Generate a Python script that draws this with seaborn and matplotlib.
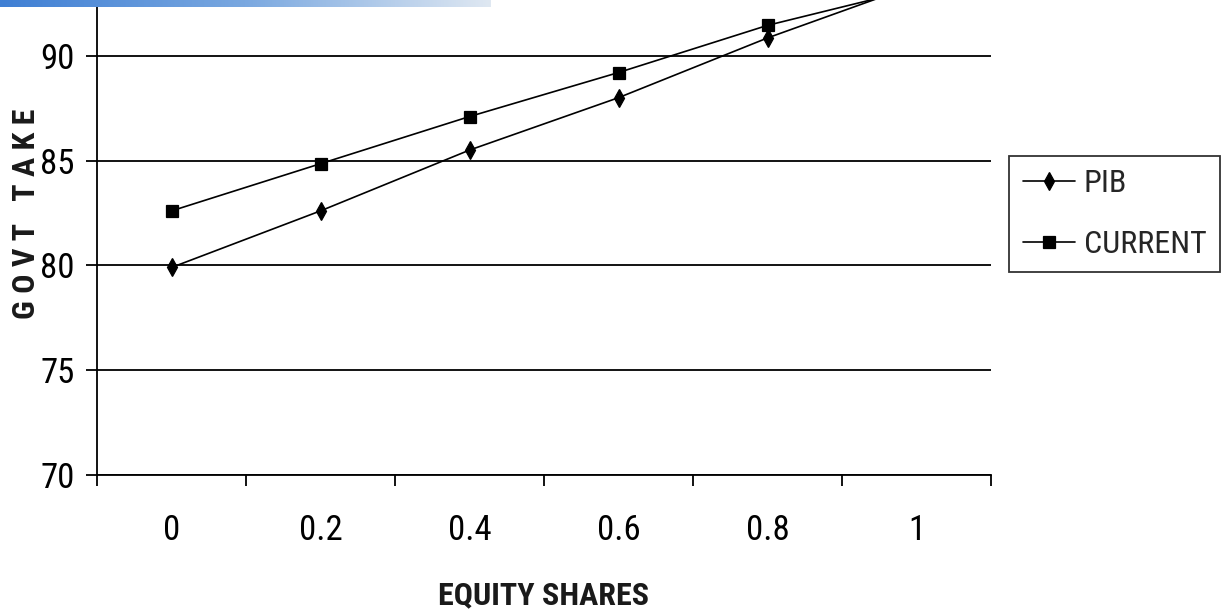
import numpy as np
import pandas as pd
import matplotlib
matplotlib.use("Agg")
import matplotlib.pyplot as plt
from matplotlib import font_manager
from matplotlib.colors import LinearSegmentedColormap
import seaborn as sns

# ---- data ----
equity_shares = ["0", "0.2", "0.4", "0.6", "0.8", "1"]
pib = [79.9, 82.6, 85.5, 88.0, 90.85, 93.4]
current = [82.6, 84.85, 87.1, 89.2, 91.45, 93.2]
series_names = ["PIB", "CURRENT"]
y_ticks = [70, 75, 80, 85, 90]

df = pd.DataFrame({
    "share": equity_shares * 2,
    "take": pib + current,
    "series": [series_names[0]] * len(pib) + [series_names[1]] * len(current),
})

sns.set_theme(style="white")

# pick a narrow font if possible
available = {f.name for f in font_manager.fontManager.ttflist}
font = "DejaVu Sans"
scale = 0.82
for cand in ["Liberation Sans Narrow", "DejaVu Sans Condensed", "Roboto Condensed",
             "Open Sans Condensed", "Liberation Sans"]:
    if cand in available:
        font = cand
        scale = 1.0 if ("Narrow" in cand or "Condensed" in cand) else 0.82
        break
plt.rcParams["font.family"] = [font, "DejaVu Sans"]

W, H = 1221, 616
fig = plt.figure(figsize=(W / 100, H / 100), dpi=100)
ax = fig.add_axes([97 / W, 1 - 475 / H, (991 - 97) / W, 475 / H])

sns.pointplot(data=df, x="share", y="take", hue="series", order=equity_shares,
              hue_order=series_names, palette=["black", "black"],
              markers=["d", "s"], linestyles=["-", "-"], errorbar=None,
              markersize=9, linewidth=1.2, ax=ax)

ax.set_ylim(70, 92.66)
ax.set_xlim(-0.5, 5.5)
ax.set_yticks(y_ticks)
ax.set_xticks(np.arange(-0.5, 6, 1), minor=True)
ax.grid(False)
for y in y_ticks:
    ax.axhline(y, color="black", lw=1.3, zorder=0.5)

for s in ["top", "right"]:
    ax.spines[s].set_visible(False)
for s in ["left", "bottom"]:
    ax.spines[s].set_color("black")
    ax.spines[s].set_linewidth(1.3)

tick_fs = 25 * scale
ax.tick_params(axis="x", which="major", length=0, pad=28, labelsize=tick_fs, colors="black")
ax.tick_params(axis="x", which="minor", length=8, width=1.3, direction="out", bottom=True, color="black")
ax.tick_params(axis="y", which="major", length=8, width=1.3, direction="out", left=True,
               pad=8, labelsize=tick_fs, colors="black")
ax.set_xlabel("")
ax.set_ylabel("")

handles, labels = ax.get_legend_handles_labels()
if ax.get_legend() is not None:
    ax.get_legend().remove()
leg = fig.legend(handles, labels, loc="center", bbox_to_anchor=(1114.5 / W, 1 - 214 / H),
                 frameon=True, fancybox=False, fontsize=23 * scale, handlelength=1.65,
                 handletextpad=0.26, labelspacing=1.0, borderpad=0.42, borderaxespad=0)
leg.get_frame().set_edgecolor("black")
leg.get_frame().set_linewidth(1.3)

fig.text(26 / W, 1 - 214 / H, "G O V T   T A K E", rotation=90, ha="center", va="center",
         fontsize=23 * scale, fontweight="bold", color="#1a1a1a")
fig.text(544 / W, 1 - 595 / H, "EQUITY SHARES", ha="center", va="center",
         fontsize=23 * scale, fontweight="bold", color="#1a1a1a")

# decorative blue header strip
bar = fig.add_axes([0, 1 - 7 / H, 491 / W, 7 / H], zorder=10)
grad = np.linspace(0, 1, 256)[None, :]
cmap = LinearSegmentedColormap.from_list("hdr", ["#3f7fd4", "#7aa8e0", "#dfe8f2"])
bar.imshow(grad, aspect="auto", cmap=cmap)
bar.axis("off")

fig.savefig("out.png", dpi=100)
